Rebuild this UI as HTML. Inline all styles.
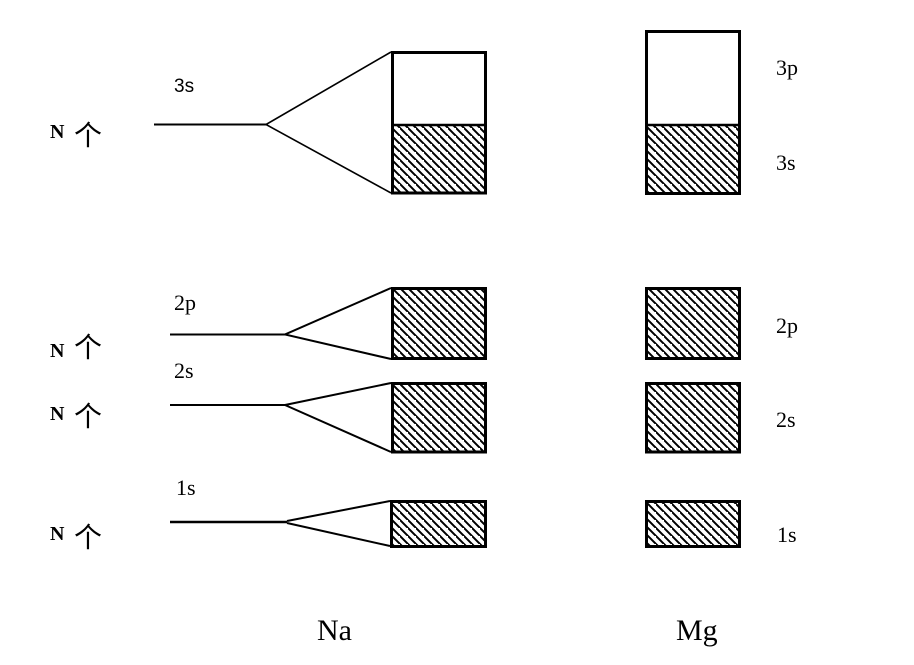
<!DOCTYPE html>
<html>
<head>
<meta charset="utf-8">
<style>
html,body{margin:0;padding:0;background:#fff;}
svg{display:block;}
.sans{font-family:"Liberation Sans",sans-serif;}
.serif{font-family:"Liberation Serif",serif;}
.cjk{font-family:"Liberation Serif","Noto Sans CJK SC",sans-serif;}
</style>
</head>
<body>
<svg width="914" height="665" viewBox="0 0 914 665" xmlns="http://www.w3.org/2000/svg">
<defs>
<pattern id="h" patternUnits="userSpaceOnUse" width="8" height="8">
<path d="M-2,-2 L10,10 M-6,2 L2,10 M6,-6 L14,2" stroke="#000" stroke-width="2"/>
</pattern>
</defs>

<!-- Na 3s -->
<line x1="154" y1="124.5" x2="266" y2="124.5" stroke="#000" stroke-width="2"/>
<polyline points="391,52 266,124.5 391,193" fill="none" stroke="#000" stroke-width="1.6"/>
<rect x="392.5" y="125" width="93" height="67.5" fill="url(#h)"/>
<rect x="392.5" y="52.5" width="93" height="140.5" fill="none" stroke="#000" stroke-width="3"/>
<line x1="392" y1="125" x2="486" y2="125" stroke="#000" stroke-width="2.5"/>

<!-- Na 2p -->
<line x1="170" y1="334.5" x2="285" y2="334.5" stroke="#000" stroke-width="2"/>
<polyline points="391,288 285,334.5 391,359" fill="none" stroke="#000" stroke-width="2"/>
<rect x="392.5" y="288.5" width="93" height="70" fill="url(#h)" stroke="#000" stroke-width="3"/>

<!-- Na 2s -->
<line x1="170" y1="405" x2="285" y2="405" stroke="#000" stroke-width="2"/>
<polyline points="391,383 285,405 391,452" fill="none" stroke="#000" stroke-width="2"/>
<rect x="392.5" y="383.5" width="93" height="68.5" fill="url(#h)" stroke="#000" stroke-width="3"/>

<!-- Na 1s -->
<line x1="170" y1="522" x2="287" y2="522" stroke="#000" stroke-width="2.5"/>
<line x1="287" y1="521" x2="390" y2="501" stroke="#000" stroke-width="2"/>
<line x1="287" y1="523" x2="390" y2="546" stroke="#000" stroke-width="2"/>
<rect x="391.5" y="501.5" width="94" height="45" fill="url(#h)" stroke="#000" stroke-width="3"/>

<!-- Mg -->
<rect x="646.5" y="125" width="93" height="68.5" fill="url(#h)"/>
<rect x="646.5" y="31.5" width="93" height="162" fill="none" stroke="#000" stroke-width="3"/>
<line x1="646" y1="125" x2="740" y2="125" stroke="#000" stroke-width="2.5"/>
<rect x="646.5" y="288.5" width="93" height="70" fill="url(#h)" stroke="#000" stroke-width="3"/>
<rect x="646.5" y="383.5" width="93" height="68.5" fill="url(#h)" stroke="#000" stroke-width="3"/>
<rect x="646.5" y="501.5" width="93" height="45" fill="url(#h)" stroke="#000" stroke-width="3"/>

<!-- Na orbital labels -->
<text x="174" y="92" class="sans" font-size="19">3s</text>
<text x="174" y="310" class="serif" font-size="22">2p</text>
<text x="174" y="378" class="serif" font-size="22">2s</text>
<text x="176" y="495" class="serif" font-size="22">1s</text>

<!-- Mg labels -->
<text x="776" y="75" class="serif" font-size="22">3p</text>
<text x="776" y="170" class="serif" font-size="22">3s</text>
<text x="776" y="333" class="serif" font-size="22">2p</text>
<text x="776" y="427" class="serif" font-size="22">2s</text>
<text x="777" y="542" class="serif" font-size="22">1s</text>

<!-- N个 labels -->
<g class="cjk">
<text x="50" y="138"><tspan font-size="20" font-weight="bold" font-family="Liberation Serif,serif">N</tspan><tspan x="74" y="145" font-size="28">个</tspan></text>
<text x="50" y="357"><tspan font-size="20" font-weight="bold" font-family="Liberation Serif,serif">N</tspan><tspan x="74" y="357" font-size="28">个</tspan></text>
<text x="50" y="420"><tspan font-size="20" font-weight="bold" font-family="Liberation Serif,serif">N</tspan><tspan x="74" y="426" font-size="28">个</tspan></text>
<text x="50" y="540"><tspan font-size="20" font-weight="bold" font-family="Liberation Serif,serif">N</tspan><tspan x="74" y="547" font-size="28">个</tspan></text>
</g>

<!-- bottom labels -->
<text x="317" y="640" class="serif" font-size="30">Na</text>
<text x="676" y="640" class="serif" font-size="30">Mg</text>
</svg>
</body>
</html>
